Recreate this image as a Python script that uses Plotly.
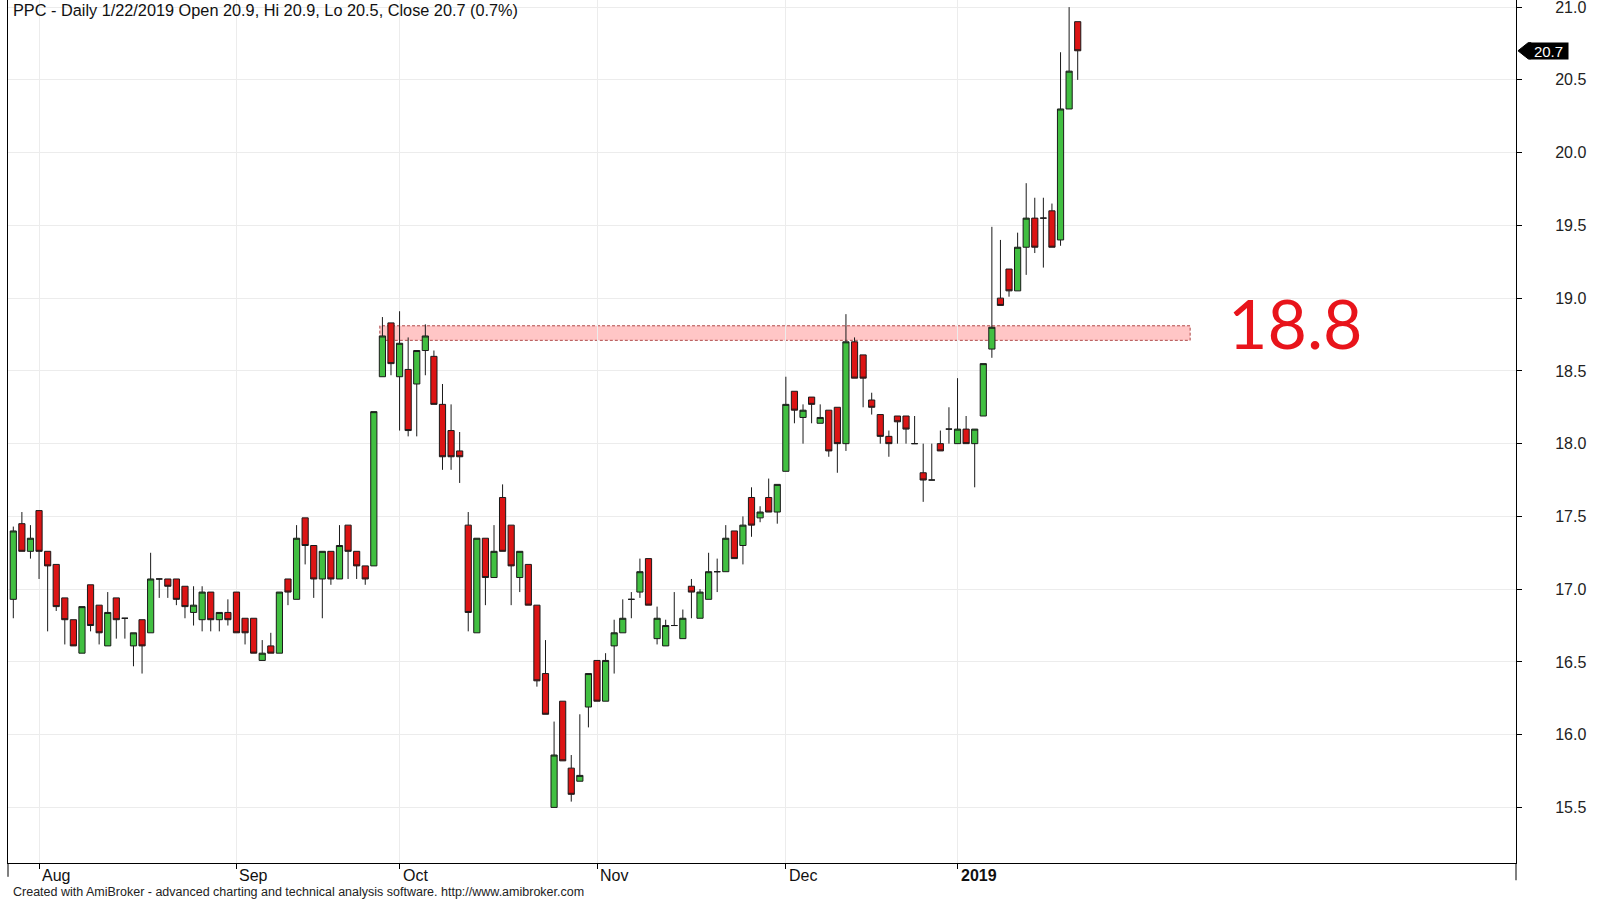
import plotly.graph_objects as go

# ---------------- data ----------------
ticker = "PPC"
open_ = [16.93, 17.45, 17.26, 17.54, 17.26, 17.17, 16.94, 16.79, 16.56, 17.03,
         16.89, 16.61, 16.94, 16.80, 16.61, 16.79, 16.70, 17.07, 17.07, 17.07,
         17.02, 16.84, 16.79, 16.98, 16.79, 16.84, 16.98, 16.80, 16.80, 16.51,
         16.61, 16.56, 17.07, 16.93, 17.49, 17.30, 17.07, 17.26, 17.07, 17.44,
         17.26, 17.16, 17.16, 18.46, 18.83, 18.46, 18.51, 18.41, 18.64, 18.60,
         18.27, 18.09, 17.95, 17.44, 16.70, 17.35, 17.08, 17.63, 17.44, 17.08,
         17.17, 16.89, 16.42, 15.50, 16.23, 15.77, 15.68, 16.19, 16.51, 16.23,
         16.61, 16.70, 16.93, 16.98, 17.21, 16.66, 16.61, 16.75, 16.66, 17.02,
         16.80, 16.93, 17.12, 17.12, 17.40, 17.30, 17.63, 17.49, 17.63, 17.53,
         17.81, 18.36, 18.18, 18.32, 18.14, 18.23, 18.25, 18.00, 18.70, 18.61,
         18.30, 18.20, 18.05, 18.19, 18.19, 18.00, 17.80, 17.75, 18.00, 18.10,
         18.00, 18.10, 18.00, 18.19, 18.65, 19.00, 19.20, 19.05, 19.35, 19.55,
         19.55, 19.60, 19.40, 20.30, 20.90]
high = [17.43, 17.53, 17.44, 17.54, 17.26, 17.17, 16.94, 16.79, 16.88, 17.03,
        16.89, 16.98, 16.94, 16.80, 16.70, 16.79, 17.25, 17.07, 17.07, 17.07,
        17.02, 17.02, 17.02, 16.98, 16.84, 16.93, 16.98, 16.80, 16.80, 16.65,
        16.70, 16.98, 17.07, 17.44, 17.49, 17.30, 17.26, 17.26, 17.44, 17.44,
        17.26, 17.16, 18.22, 18.87, 18.83, 18.91, 18.73, 18.64, 18.82, 18.64,
        18.41, 18.27, 18.08, 17.53, 17.35, 17.35, 17.44, 17.72, 17.44, 17.26,
        17.17, 16.89, 16.65, 16.09, 16.23, 15.86, 16.14, 16.42, 16.51, 16.56,
        16.79, 16.93, 16.98, 17.21, 17.21, 16.88, 16.79, 16.98, 16.86, 17.07,
        17.00, 17.25, 17.21, 17.44, 17.40, 17.50, 17.70, 17.57, 17.76, 17.72,
        18.46, 18.36, 18.27, 18.32, 18.27, 18.23, 18.25, 18.89, 18.73, 18.61,
        18.35, 18.20, 18.09, 18.19, 18.19, 18.19, 18.00, 18.00, 18.09, 18.25,
        18.45, 18.19, 18.10, 18.55, 19.49, 19.40, 19.20, 19.45, 19.79, 19.69,
        19.69, 19.65, 20.69, 21.00, 20.90]
low = [16.80, 17.26, 17.21, 17.07, 16.71, 16.85, 16.62, 16.61, 16.56, 16.71,
       16.62, 16.61, 16.66, 16.66, 16.47, 16.42, 16.70, 16.94, 16.94, 16.89,
       16.80, 16.75, 16.71, 16.71, 16.71, 16.75, 16.70, 16.62, 16.56, 16.51,
       16.56, 16.56, 16.89, 16.93, 17.17, 16.94, 16.80, 17.03, 17.07, 17.07,
       17.07, 17.03, 17.16, 18.46, 18.47, 18.09, 18.05, 18.05, 18.47, 18.27,
       17.82, 17.82, 17.73, 16.71, 16.70, 16.89, 17.08, 17.26, 16.89, 16.98,
       16.89, 16.33, 16.14, 15.50, 15.82, 15.54, 15.68, 16.05, 16.23, 16.23,
       16.42, 16.70, 16.80, 16.94, 16.89, 16.62, 16.61, 16.75, 16.66, 16.80,
       16.80, 16.93, 16.98, 17.12, 17.21, 17.17, 17.36, 17.46, 17.53, 17.45,
       17.81, 18.14, 18.00, 18.14, 18.14, 17.91, 17.80, 17.95, 18.45, 18.25,
       18.20, 18.00, 17.91, 18.00, 18.00, 18.00, 17.60, 17.75, 17.95, 18.00,
       18.00, 18.00, 17.70, 18.19, 18.59, 18.95, 19.01, 19.05, 19.16, 19.31,
       19.21, 19.35, 19.36, 20.30, 20.50]
close = [17.40, 17.26, 17.35, 17.26, 17.16, 16.88, 16.79, 16.61, 16.88, 16.75,
         16.70, 16.84, 16.79, 16.80, 16.70, 16.61, 17.07, 17.07, 17.02, 16.93,
         16.88, 16.89, 16.98, 16.79, 16.84, 16.79, 16.70, 16.70, 16.56, 16.56,
         16.56, 16.98, 16.98, 17.35, 17.30, 17.07, 17.26, 17.07, 17.30, 17.26,
         17.16, 17.07, 18.22, 18.74, 18.55, 18.69, 18.09, 18.64, 18.74, 18.27,
         17.91, 17.91, 17.91, 16.84, 17.35, 17.08, 17.26, 17.26, 17.16, 17.26,
         16.89, 16.37, 16.14, 15.86, 15.82, 15.59, 15.72, 16.42, 16.23, 16.51,
         16.70, 16.80, 16.93, 17.12, 16.89, 16.80, 16.75, 16.75, 16.80, 16.98,
         16.98, 17.12, 17.12, 17.35, 17.21, 17.44, 17.44, 17.53, 17.53, 17.72,
         18.27, 18.23, 18.23, 18.27, 18.18, 17.95, 18.00, 18.70, 18.45, 18.45,
         18.25, 18.05, 18.00, 18.15, 18.10, 18.00, 17.75, 17.75, 17.95, 18.10,
         18.10, 18.00, 18.10, 18.55, 18.80, 18.95, 19.05, 19.35, 19.55, 19.35,
         19.55, 19.35, 20.30, 20.56, 20.70]

month_labels = ["Aug", "Sep", "Oct", "Nov", "Dec", "<b>2019</b>"]
month_bar_index = [3, 26, 45, 68, 90, 110]
y_tick_values = [15.5, 16.0, 16.5, 17.0, 17.5, 18.0, 18.5, 19.0, 19.5, 20.0, 20.5, 21.0]
resistance_level = 18.8
band_low, band_high = 18.71, 18.81
title_text = "PPC - Daily 1/22/2019 Open 20.9, Hi 20.9, Lo 20.5, Close 20.7 (0.7%)"
footer_text = ("Created with AmiBroker - advanced charting and technical analysis "
               "software. http://www.amibroker.com")

# ---------------- figure ----------------
x = list(range(len(close)))
AX_FONT = "Liberation Sans, Arial, sans-serif"

fig = go.Figure()
fig.add_trace(go.Candlestick(
    x=x, open=open_, high=high, low=low, close=close,
    increasing=dict(fillcolor="#41bf41", line=dict(color="#1a1a1a", width=1)),
    decreasing=dict(fillcolor="#dc1414", line=dict(color="#1a1a1a", width=1)),
    whiskerwidth=0, showlegend=False, hoverinfo="skip",
))

# resistance band
fig.add_shape(type="rect", xref="x", yref="y", x0=42.7, x1=137.1,
              y0=band_low, y1=band_high, layer="below",
              fillcolor="rgba(255,160,160,0.6)",
              line=dict(color="#b04848", width=1, dash="3px,2px"))

# left border and right axis line extensions below the x axis
fig.add_shape(type="line", xref="paper", yref="paper", x0=0, x1=0, y0=0, y1=-0.016,
              line=dict(color="#000", width=1))
fig.add_shape(type="line", xref="paper", yref="paper", x0=1, x1=1, y0=0, y1=-0.02,
              line=dict(color="#000", width=1))

# last price marker: arrow tip + black label box
last = close[-1]
fig.add_shape(type="path", xref="paper", yref="y",
              path=(f"M 1.0013,{last} L 1.0080,{last + 0.055} L 1.0100,{last + 0.055} "
                    f"L 1.0100,{last - 0.055} L 1.0080,{last - 0.055} Z"),
              fillcolor="#000", line=dict(color="#000", width=1))
fig.add_annotation(xref="paper", yref="y", x=1, y=last, xanchor="left", xshift=12,
                   text=f"{last:.1f}", showarrow=False, bgcolor="#000",
                   width=37, height=14, borderpad=1, align="center",
                   font=dict(family=AX_FONT, size=15, color="#fff"))

# month labels (left-aligned at the tick)
for idx, lab in zip(month_bar_index, month_labels):
    fig.add_annotation(xref="x", yref="paper", x=idx, y=0, text=lab, showarrow=False,
                       xanchor="left", yanchor="top", xshift=1, yshift=-2,
                       font=dict(family=AX_FONT, size=16, color="#111"))

# title, footer, level label
fig.add_annotation(xref="paper", yref="paper", x=0, y=1, xshift=3, yshift=1,
                   xanchor="left", yanchor="top", text=title_text, showarrow=False,
                   font=dict(family=AX_FONT, size=16.3, color="#111"))
fig.add_annotation(xref="paper", yref="paper", x=0, y=-0.0336, xshift=3,
                   xanchor="left", yanchor="middle", text=footer_text, showarrow=False,
                   font=dict(family=AX_FONT, size=12.5, color="#222"))
fig.add_annotation(xref="x", yref="y", x=149.3, y=resistance_level, yshift=5,
                   text=f"{resistance_level:.1f}", showarrow=False,
                   font=dict(family="Lato, sans-serif", size=68, color="#e8141b"))

fig.update_layout(
    width=1600, height=900,
    margin=dict(l=8, r=84, t=0, b=37),
    paper_bgcolor="#ffffff", plot_bgcolor="#ffffff",
    boxgap=0.28, boxgroupgap=0,
    hovermode=False,
    xaxis=dict(range=[-0.617, 175.06], tickvals=month_bar_index, showticklabels=False,
               ticks="outside", ticklen=5, tickcolor="#000",
               showline=True, linecolor="#000", linewidth=1, mirror=True,
               showgrid=True, gridcolor="#ececec", zeroline=False,
               rangeslider=dict(visible=False), fixedrange=True),
    yaxis=dict(range=[15.118, 21.049], side="right", tickvals=y_tick_values,
               ticktext=[f"{v:.1f}" for v in y_tick_values],
               ticks="outside", ticklen=5, tickcolor="#000",
               ticklabelstandoff=30, ticklabeloverflow="allow",
               tickfont=dict(family=AX_FONT, size=16, color="#222"),
               showline=True, linecolor="#000", linewidth=1, mirror=True,
               showgrid=True, gridcolor="#ececec", zeroline=False, fixedrange=True),
)

fig.write_html("out.html", config={"displayModeBar": False},
               post_script="document.body.style.margin='0';document.body.style.overflow='hidden';")
